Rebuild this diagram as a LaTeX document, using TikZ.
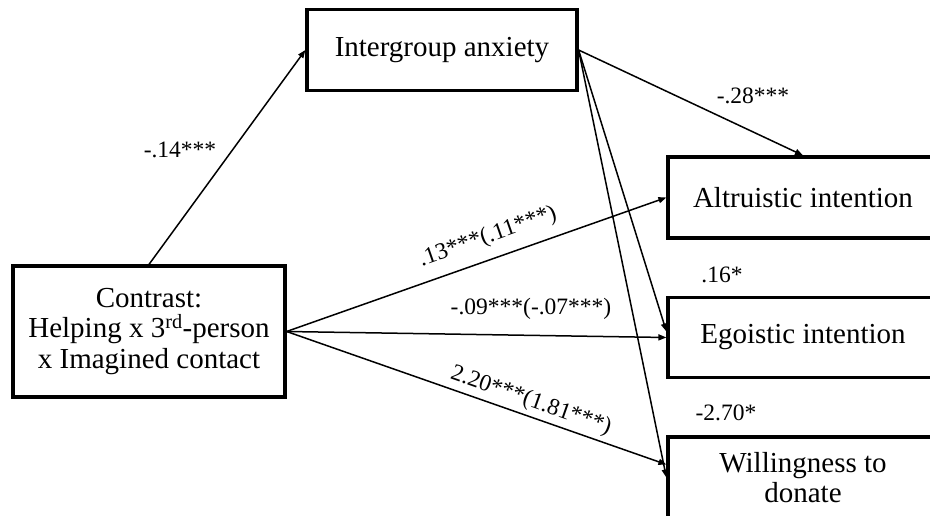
\documentclass[tikz,border=0pt]{standalone}
\usepackage{fontspec}
\setmainfont{Liberation Serif}
\usetikzlibrary{arrows.meta}
\begin{document}
\begin{tikzpicture}[x=1pt,y=-1pt,
  box/.style={draw, line width=3.2pt, inner sep=0pt, font=\fontsize{29}{30.5}\selectfont, align=center},
  rbox/.style={box, minimum width=290pt, text width=270pt, xshift=10pt},
  arr/.style={line width=1.5pt, -{Triangle[length=8pt,width=6pt]}},
  lbl/.style={font=\fontsize{23.5}{26}\selectfont, inner sep=0pt}]
\useasboundingbox (0,0) rectangle (930,516);
\node[box, minimum width=270pt, minimum height=81pt] (anx) at (442,50) {Intergroup anxiety};
\node[box, minimum width=272pt, minimum height=131pt] (con) at (149,331.5) {Contrast:\\Helping x 3\textsuperscript{rd}-person\\x Imagined contact};
\node[box, minimum width=290pt, minimum height=81pt] (alt) at (813,197.5) {Altruistic intention\hspace*{20pt}};
\node[box, minimum width=290pt, minimum height=80pt] (ego) at (813,337.5) {Egoistic intention\hspace*{20pt}};
\node[box, minimum width=290pt, minimum height=81pt, align=center] (will) at (813,477.5) {Willingness to\hspace*{20pt}\\donate\hspace*{20pt}};

\draw[arr] (con.north) -- (anx.west);
\draw[arr] (anx.east) -- (alt.north -| 803,0);
\draw[arr] (anx.east) -- ([yshift=6pt]ego.west);
\draw[arr] (anx.east) -- (will.west);
\draw[arr] (con.east) -- (alt.west);
\draw[arr] (con.east) -- (ego.west);
\draw[arr] (con.east) -- ([yshift=13pt]will.west);

\node[lbl] (l1) at (180,150) {-.14***};
\node[lbl] (l2) at (753,96) {-.28***};
\node[lbl, rotate=19.4] (l3) at (488,237) {.13***(.11***)};
\node[lbl] (l4) at (531,309) {-.09***(-.07***)};
\node[lbl, rotate=-19.4] (l5) at (531,401) {2.20***(1.81***)};
\node[lbl] (l6) at (722,275) {.16*};
\node[lbl] (l7) at (726,413) {-2.70*};
\end{tikzpicture}
\end{document}
